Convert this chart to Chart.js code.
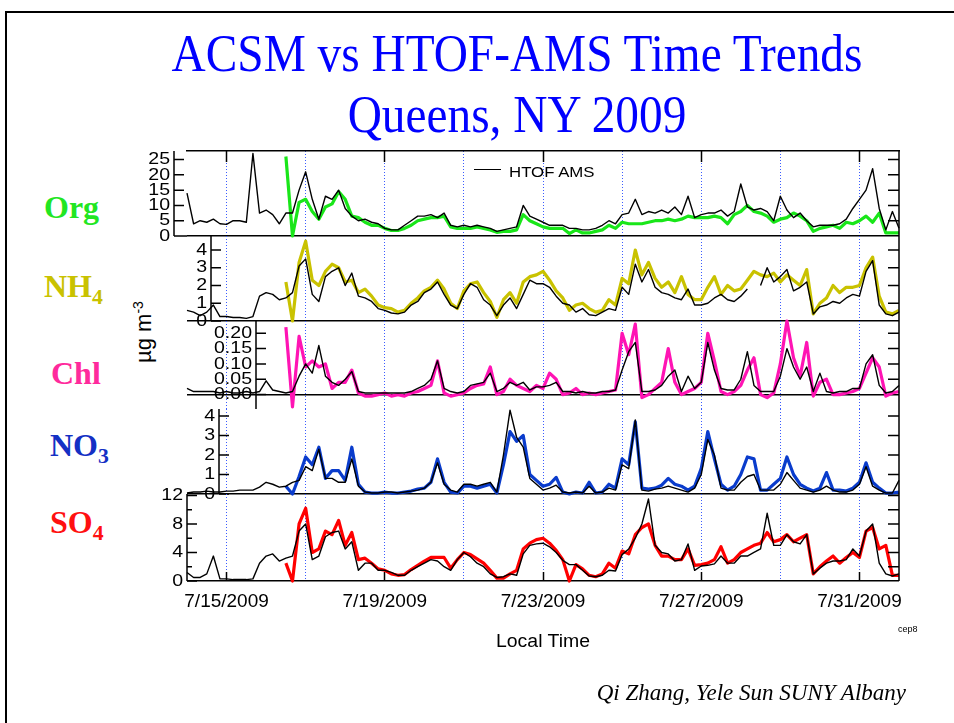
<!DOCTYPE html>
<html>
<head>
<meta charset="utf-8">
<title>ACSM vs HTOF-AMS Time Trends</title>
<script src="https://cdn.jsdelivr.net/npm/chart.js@4.4.0/dist/chart.umd.min.js"></script>
<style>
  body { margin: 0; background: #fff; }
  #page { position: relative; width: 954px; height: 723px; overflow: hidden; background: #fff; }
  #page canvas { position: absolute; left: 0; top: 0; }
  .txt { position: absolute; white-space: nowrap; }
  .serif { font-family: "Liberation Serif", "Times New Roman", serif; }
  .sans { font-family: "Liberation Sans", Arial, sans-serif; }
  .species { font-family: "Liberation Serif", serif; font-weight: bold; font-size: 32px; line-height: 32px; left: 44px; }
  .species sub { font-size: 0.68em; vertical-align: -0.3em; line-height: 0; }
</style>
</head>
<body>
<div id="page">
  <div style="position:absolute;left:5px;top:11px;width:1000px;height:800px;border-left:2px solid #000;border-top:2px solid #000;"></div>

  <div class="txt serif" style="left:0;width:1034px;top:28px;font-size:52px;line-height:52px;color:#0000ff;text-align:center;transform:scaleX(0.91);">ACSM vs HTOF-AMS Time Trends</div>
  <div class="txt serif" style="left:0;width:1034px;top:89px;font-size:52px;line-height:52px;color:#0000ff;text-align:center;transform:scaleX(0.91);">Queens, NY 2009</div>

  <div class="txt species" style="top:191px;color:#22e622;">Org</div>
  <div class="txt species" style="top:270px;color:#c9c200;">NH<sub>4</sub></div>
  <div class="txt species" style="top:357px;color:#ff2a9c;left:51px;">Chl</div>
  <div class="txt species" style="top:429px;color:#1430c4;left:50px;">NO<sub>3</sub></div>
  <div class="txt species" style="top:506px;color:#ff1010;left:50px;">SO<sub>4</sub></div>

  <div class="txt sans" style="left:141px;top:332px;font-size:22px;line-height:22px;transform:translate(-50%,-50%) rotate(-90deg);">&micro;g m<sup style="font-size:14px;">-3</sup></div>

  <canvas id="orgChart" width="954" height="723"></canvas>
  <canvas id="nh4Chart" width="954" height="723"></canvas>
  <canvas id="chlChart" width="954" height="723"></canvas>
  <canvas id="no3Chart" width="954" height="723"></canvas>
  <canvas id="so4Chart" width="954" height="723"></canvas>

  <div style="position:absolute;left:474px;top:169px;width:27px;border-top:1.5px solid #000;"></div>
  <div class="txt sans" style="left:509px;top:164px;font-size:15px;line-height:15px;transform:scaleX(1.12);transform-origin:left center;">HTOF AMS</div>

  <div class="txt sans" style="left:443px;width:200px;top:632px;font-size:18px;line-height:18px;text-align:center;transform:scaleX(1.08);">Local Time</div>
  <div class="txt sans" style="left:898px;top:625px;font-size:9px;line-height:9px;">cep8</div>
  <div class="txt serif" style="right:48px;top:681px;font-size:23px;line-height:23px;font-style:italic;">Qi Zhang, Yele Sun SUNY Albany</div>
</div>

<script>
// 4-hour points, day 0 = 7/14/2009 00:00 local time
const stepDays = 4 / 24;
const htofStart = 0;   // HTOF-AMS series start index
const acsmStart = 15;  // ACSM series start index (7/16 12:00)

const orgHtof = [14, 4, 5, 4.5, 5.5, 4, 3.8, 5, 5, 4.5, 27, 7.5, 8.5, 7, 4, 7.5, 7.5, 15, 21, 12,
  5.5, 13, 12, 15, 9, 6.5, 5, 5.5, 4.5, 4, 2.5, 2, 2, 3.5, 5, 6.5, 6.5, 7, 6, 7.5,
  3.5, 3, 3.5, 3, 3.5, 3, 2.5, 1.5, 2, 2.5, 3, 10, 6.5, 5.5, 4.5, 3.5, 3.5, 3.5, 2.5, 2.5,
  2, 2, 2.5, 3.5, 5, 4, 7, 7.5, 12, 7, 8, 7.5, 8.5, 7.5, 9.5, 7, 13, 6, 7, 7.5,
  7.5, 8.5, 6.5, 8, 17, 9.5, 8.5, 9, 8, 5, 13, 8.5, 6, 7.5, 5, 3, 3.5, 3.5, 3.5, 4,
  5.5, 9, 12, 15, 22, 9, 2, 8, 2.5];
const orgAcsm = [26, 0, 11, 12, 8, 5.5, 9.5, 10.5, 14.5, 12, 6.5, 6, 4.5, 3.5, 3.5, 2.5, 1.8, 1.8, 2.5, 3.5,
  5, 5.5, 6, 6, 6.5, 3, 2.5, 2.5, 2.5, 3, 2.5, 2, 1.2, 1.5, 1.5, 2, 7, 5, 4, 3,
  2.5, 2.5, 2.5, 0.8, 2, 1, 1, 1.5, 2, 3.5, 2.5, 4.5, 4, 4, 4, 4.5, 5, 5, 5.5, 5,
  5.5, 6.5, 6, 6, 6, 6.5, 6, 4, 7, 8, 10, 8, 7.5, 6.5, 4.5, 5.5, 6, 7.5, 6.5, 5,
  1.5, 2.5, 3, 3.5, 2.5, 4.5, 4, 5, 6.5, 4.5, 7.5, 1, 1, 1];

const nh4Htof = [0.6, 0.5, 0.3, 0.5, 0.9, 0.25, 0.25, 0.2, 0.2, 0.15, 0.25, 1.4, 1.6, 1.5, 1.2, 1.3, 1.6, 3.1, 3.5, 1.5,
  1.1, 2.5, 2.8, 3.0, 2.0, 2.7, 1.4, 1.3, 1.1, 0.7, 0.6, 0.45, 0.4, 0.5, 0.9, 1.1, 1.6, 1.8, 2.2, 1.5,
  0.9, 0.7, 1.5, 2.1, 1.9, 1.2, 0.9, 0.3, 0.9, 1.3, 0.7, 1.5, 2.3, 2.1, 2.1, 1.9, 1.4, 1.0, 0.9, 0.5,
  0.7, 0.35, 0.3, 0.5, 0.7, 0.6, 1.9, 1.5, 3.2, 2.2, 2.9, 1.9, 1.6, 1.5, 1.3, 1.2, 1.8, 0.9, 0.9, 1.0,
  1.3, 1.5, 1.2, 1.1, 1.4, 1.8, null, 2.0, 3.0, 2.2, 2.5, 2.9, 1.7, 1.9, 2.2, 0.4, 0.8, 0.9, 1.1, 1.0,
  1.3, 1.5, 1.4, 2.8, 3.4, 0.9, 0.4, 0.3, 0.5];
const nh4Acsm = [2.2, 0, 3.3, 4.5, 2.3, 2.0, 2.8, 3.2, 3.0, 2.2, 2.3, 1.6, 1.8, 1.4, 0.9, 0.75, 0.7, 0.5, 0.6, 1.0,
  1.3, 1.7, 1.9, 2.3, 1.8, 1.0, 0.7, 1.7, 2.1, 2.2, 1.6, 1.1, 0.2, 1.2, 1.6, 1.0, 2.2, 2.5, 2.6, 2.8,
  2.3, 1.7, 1.3, 0.6, 0.9, 1.0, 0.7, 0.5, 0.6, 1.2, 0.9, 2.4, 2.1, 4.0, 2.6, 3.3, 2.4, 1.9, 2.2, 1.6,
  2.5, 1.5, 1.2, 1.2, 1.9, 2.5, 1.5, 2.0, 1.7, 1.8, 2.3, 2.8, 2.6, 2.5, 2.7, 2.2, 2.6, 2.3, 2.0, 2.9,
  0.4, 1.0, 1.3, 2.0, 1.6, 1.9, 1.9, 2.0, 3.0, 3.6, 1.4, 0.5, 0.4, 0.6];

const chlHtof = [0.02, 0.01, 0.01, 0.01, 0.01, 0.005, 0.01, 0.005, 0.005, 0.01, 0.005, 0.01, 0.045, 0.015, 0.01, 0.005, 0.01, 0.06, 0.10, 0.07,
  0.16, 0.06, 0.04, 0.03, 0.05, 0.075, 0.01, 0.005, 0.005, 0.005, 0.005, 0.005, 0.005, 0.005, 0.01, 0.02, 0.03, 0.05, 0.11, 0.02,
  0.01, 0.005, 0.01, 0.03, 0.035, 0.04, 0.07, 0.01, 0.02, 0.04, 0.03, 0.04, 0.015, 0.025, 0.025, 0.03, 0.04, 0.01, 0.01, 0.005,
  0.01, 0.005, 0.005, 0.01, 0.01, 0.015, 0.08, 0.14, 0.17, 0.01, 0.01, 0.015, 0.03, 0.06, 0.08, 0.01, 0.06, 0.02, 0.04, 0.17,
  0.08, 0.02, 0.015, 0.015, 0.05, 0.14, 0.03, 0.01, 0.01, 0.01, 0.06, 0.15, 0.09, 0.05, 0.09, 0.01, 0.07, 0.01, 0.005, 0.01,
  0.01, 0.02, 0.02, 0.10, 0.13, 0.03, 0.005, 0.01, 0.03];
const chlAcsm = [0.22, -0.04, 0.19, 0.09, 0.11, 0.09, 0.10, 0.02, 0.04, 0.04, 0.08, 0.005, -0.005, -0.005, 0.0, 0.005, -0.005, 0.0, -0.005, 0.005,
  0.01, 0.02, 0.03, 0.11, 0.005, -0.005, 0.0, 0.005, 0.02, 0.03, 0.035, 0.09, 0.0, 0.01, 0.05, 0.03, 0.02, 0.01, 0.03, 0.02,
  0.07, 0.05, 0.0, 0.005, 0.02, 0.0, 0.005, 0.0, 0.005, 0.01, 0.015, 0.2, 0.13, 0.23, -0.01, 0.0, 0.02, 0.04, 0.15, 0.04,
  0.0, 0.01, 0.02, 0.04, 0.2, 0.11, 0.01, 0.0, 0.01, 0.03, 0.08, 0.12, 0.0, -0.01, 0.005, 0.1, 0.24, 0.12, 0.06, 0.17,
  -0.005, 0.04, 0.05, 0.0, 0.0, 0.005, 0.01, 0.02, 0.07, 0.12, 0.09, -0.005, 0.005, 0.01];

const no3Htof = [0.05, 0.1, 0.1, 0.15, 0.1, 0.1, 0.15, 0.15, 0.2, 0.2, 0.2, 0.35, 0.6, 0.5, 0.35, 0.4, 0.6, 0.7, 1.4, 1.2,
  2.3, 0.8, 0.8, 0.6, 0.6, 1.8, 0.4, 0.1, 0.05, 0.05, 0.1, 0.1, 0.05, 0.1, 0.15, 0.2, 0.3, 0.6, 1.6, 0.5,
  0.2, 0.1, 0.5, 0.5, 0.4, 0.5, 0.6, 0.1, 2.0, 4.3, 2.9, 2.4, 0.8, 0.5, 0.2, 0.3, 0.45, 0.1, 0.05, 0.1,
  0.05, 0.4, 0.05, 0.1, 0.3, 0.2, 1.5, 1.3, 3.8, 0.2, 0.15, 0.25, 0.3, 0.4, 0.3, 0.2, 0.1, 0.3, 1.0, 2.8,
  2.0, 0.3, 0.2, 0.2, 0.6, 0.9, 1.0, 0.2, 0.2, 0.2, 0.5, 1.1, 0.7, 0.3, 0.2, 0.1, 0.2, 0.4, 0.2, 0.1,
  0.1, 0.2, 0.5, 1.4, 0.4, 0.2, 0.05, 0.05, 0.7];
const no3Acsm = [0.4, 0.0, 0.9, 1.9, 1.5, 2.4, 0.8, 1.2, 1.2, 0.7, 2.4, 0.5, 0.1, 0.05, 0.05, 0.1, 0.05, 0.05, 0.1, 0.15,
  0.25, 0.3, 0.6, 1.8, 0.6, 0.1, 0.05, 0.4, 0.4, 0.3, 0.4, 0.5, 0.05, 1.5, 3.2, 2.7, 3.0, 1.0, 0.7, 0.4,
  0.5, 0.85, 0.1, 0.0, 0.1, 0.05, 0.6, 0.05, 0.1, 0.5, 0.3, 1.8, 1.5, 3.7, 0.3, 0.25, 0.3, 0.45, 0.8, 0.5,
  0.4, 0.2, 0.4, 1.3, 3.2, 1.8, 0.5, 0.2, 0.4, 1.0, 1.9, 1.8, 0.2, 0.2, 0.5, 0.8, 1.9, 1.0, 0.5, 0.3,
  0.15, 0.3, 1.1, 0.2, 0.2, 0.15, 0.3, 0.6, 1.6, 0.6, 0.3, 0.05, 0.05, 0.1];

const so4Htof = [1.2, 0.5, 0.5, 1.0, 3.5, 0.3, 0.3, 0.2, 0.2, 0.2, 0.3, 2.5, 3.5, 3.8, 2.8, 3.2, 3.5, 7.0, 8.0, 3.0,
  3.5, 6.2, 6.8, 7.0, 4.5, 5.5, 1.5, 2.5, 2.5, 1.5, 1.5, 1.2, 0.8, 0.8, 1.5, 2.0, 2.5, 3.0, 2.8, 2.0,
  1.5, 3.0, 4.0, 3.4, 2.5, 2.0, 1.0, 0.5, 0.6, 1.0, 0.8, 3.8, 5.0, 5.2, 5.3, 4.8, 4.0, 2.9, 2.3, 2.3,
  1.5, 0.7, 0.6, 0.8, 1.5, 1.4, 3.7, 4.5, 6.0, 8.0, 11.5, 5.0, 4.0, 3.8, 2.8, 3.0, 5.2, 1.5, 2.1, 2.2,
  2.4, 3.5, 2.5, 2.5, 3.5, 3.5, 4.0, 4.5, 9.5, 5.0, 5.0, 6.5, 5.5, 5.2, 6.5, 1.0, 1.8, 2.5, 2.8, 2.8,
  3.0, 4.5, 3.5, 7.0, 8.0, 2.5, 1.0, 0.7, 1.0];
const so4Acsm = [2.5, 0.0, 8.0, 10.2, 4.0, 4.5, 7.0, 6.5, 8.5, 5.0, 6.8, 3.0, 3.2, 2.5, 1.7, 1.5, 1.0, 0.8, 0.9, 1.6,
  2.2, 2.8, 3.3, 3.3, 3.3, 1.8, 3.0, 4.0, 3.7, 3.1, 2.5, 1.5, 0.4, 0.4, 1.0, 1.5, 4.5, 5.3, 5.8, 6.0,
  5.3, 4.3, 3.0, 0.0, 2.3, 1.7, 0.8, 0.6, 1.0, 2.5, 1.8, 4.2, 3.8, 6.5, 7.5, 8.0, 5.0, 3.5, 3.5, 3.0,
  3.0, 4.5, 2.2, 2.3, 2.5, 3.0, 4.8, 2.5, 3.0, 4.0, 4.5, 5.0, 5.3, 6.8, 5.5, 5.8, 6.5, 5.5, 6.0, 6.5,
  1.0, 2.0, 2.8, 3.5, 2.5, 3.3, 4.0, 3.3, 7.0, 7.5, 4.5, 5.0, 0.8, 0.8];

// axes
const gridDays = [1, 3, 5, 7, 9, 11, 13, 15, 17];
const labelDays = [1, 5, 9, 13, 17];
const dateLabels = ['7/15/2009', '7/19/2009', '7/23/2009', '7/27/2009', '7/31/2009'];
const orgTicks = [0, 5, 10, 15, 20, 25];
const nh4Ticks = [0, 1, 2, 3, 4];
const chlTicks = [0, 0.05, 0.10, 0.15, 0.20];
const no3Ticks = [0, 1, 2, 3, 4];
const so4Ticks = [0, 2, 4, 6, 8, 10, 12];
const so4Labelled = [0, 4, 8, 12];

function toPoints(start, vals) {
  return vals.map((v, i) => ({x: (start + i) * stepDays, y: v}));
}

// Igor-style offset y axis with inward ticks, plus mirrored ticks on the right frame
const igorAxis = {
  id: 'igorAxis',
  afterDraw(chart, args, opts) {
    const ys = chart.scales.y, area = chart.chartArea, ctx = chart.ctx;
    const ax = opts.axisX;
    ctx.save();
    ctx.strokeStyle = '#000';
    ctx.fillStyle = '#000';
    ctx.lineWidth = 1.5;
    ctx.beginPath();
    ctx.moveTo(ax, area.top); ctx.lineTo(ax, area.bottom);
    ctx.moveTo(area.right, area.top); ctx.lineTo(area.right, area.bottom);
    if (ax < area.left) {
      const z = ys.getPixelForValue(0);
      ctx.moveTo(ax, z); ctx.lineTo(area.left, z);
    }
    ys.ticks.forEach(t => {
      const py = ys.getPixelForValue(t.value);
      const major = opts.labelled.includes(t.value);
      ctx.moveTo(ax, py); ctx.lineTo(ax + (major ? 10 : 5), py);
      if (t.value !== 0) { ctx.moveTo(area.right, py); ctx.lineTo(area.right - 11, py); }
    });
    ctx.stroke();
    ctx.font = opts.fontSize + 'px "Liberation Sans", Arial, sans-serif';
    ctx.textAlign = 'right';
    ctx.textBaseline = 'middle';
    ys.ticks.forEach(t => {
      if (!opts.labelled.includes(t.value)) return;
      const py = ys.getPixelForValue(t.value);
      ctx.save();
      ctx.translate(ax - 4, py);
      ctx.scale(opts.stretch, 1);
      ctx.fillText(t.value.toFixed(opts.decimals), 0, 0);
      ctx.restore();
    });
    ctx.restore();
  }
};

const panels = [
  {id: 'orgChart', htof: orgHtof, acsm: orgAcsm, color: '#19e619', top: 151, bottom: 236,
   min: 0, max: 27.8, ticks: orgTicks, labelled: orgTicks, axisX: 174, decimals: 0, topAxis: true},
  {id: 'nh4Chart', htof: nh4Htof, acsm: nh4Acsm, color: '#c9c200', top: 236, bottom: 321,
   min: 0, max: 4.79, ticks: nh4Ticks, labelled: nh4Ticks, axisX: 211, decimals: 0},
  {id: 'chlChart', htof: chlHtof, acsm: chlAcsm, color: '#ff14b4', top: 321, bottom: 409,
   min: -0.047, max: 0.24, ticks: chlTicks, labelled: chlTicks, axisX: 256, decimals: 2},
  {id: 'no3Chart', htof: no3Htof, acsm: no3Acsm, color: '#0a3ccc', top: 409, bottom: 494,
   min: 0, max: 4.36, ticks: no3Ticks, labelled: no3Ticks, axisX: 219, decimals: 0},
  {id: 'so4Chart', htof: so4Htof, acsm: so4Acsm, color: '#ff0000', top: 494, bottom: 581,
   min: 0, max: 12.2, ticks: so4Ticks, labelled: so4Labelled, axisX: 187, decimals: 0, dates: true}
];

const dateBand = 40; // room kept under the bottom panel for the date labels

panels.forEach(p => {
  const scales = {
    x: {
      type: 'linear', min: 0, max: 18,
      afterBuildTicks: s => { s.ticks = gridDays.map(v => ({value: v})); },
      afterFit: s => { s.height = p.dates ? dateBand : 0; },
      border: {display: false, dash: [1, 2]},
      grid: {
        color: '#3b5cff', lineWidth: 1,
        drawTicks: !!p.dates, tickLength: -9, tickWidth: 1.5, tickBorderDash: [],
        tickColor: c => labelDays.includes(c.tick.value) ? '#000' : 'rgba(0,0,0,0)'
      },
      ticks: {
        display: !!p.dates, autoSkip: false, maxRotation: 0, padding: 18, color: '#000',
        font: {family: 'Liberation Sans', size: 19},
        callback: v => { const i = labelDays.indexOf(v); return i >= 0 ? dateLabels[i] : ''; }
      }
    },
    y: {
      min: p.min, max: p.max,
      afterBuildTicks: s => { s.ticks = p.ticks.map(v => ({value: v})); },
      afterFit: s => { s.width = 0; },
      border: {display: false},
      grid: {drawTicks: false, lineWidth: 1.5, color: c => (c.tick && c.tick.value === 0) ? '#000' : 'rgba(0,0,0,0)'},
      ticks: {display: false}
    }
  };
  if (p.topAxis) {
    scales.xt = {
      type: 'linear', position: 'top', min: 0, max: 18,
      afterBuildTicks: s => { s.ticks = labelDays.map(v => ({value: v})); },
      afterFit: s => { s.height = 0; },
      border: {display: true, color: '#000', width: 1.5},
      grid: {drawOnChartArea: false, drawTicks: true, tickLength: -11, tickWidth: 1.5, tickColor: '#000', tickBorderDash: []},
      ticks: {display: false}
    };
  }
  const bottomPad = 723 - p.bottom - (p.dates ? dateBand : 0);
  new Chart(document.getElementById(p.id), {
    type: 'line',
    data: {
      datasets: [
        {label: 'HTOF AMS', data: toPoints(htofStart, p.htof), borderColor: '#000', borderWidth: 1.4, clip: false},
        {label: 'ACSM', data: toPoints(acsmStart, p.acsm), borderColor: p.color, borderWidth: 3.2, clip: false}
      ]
    },
    options: {
      responsive: false, animation: false, devicePixelRatio: 1, events: [],
      layout: {padding: {left: 187, right: 954 - 899, top: p.top, bottom: bottomPad}},
      elements: {point: {radius: 0}, line: {tension: 0, borderJoinStyle: 'round'}},
      plugins: {
        legend: {display: false},
        tooltip: {enabled: false},
        igorAxis: {axisX: p.axisX, labelled: p.labelled, decimals: p.decimals, fontSize: 17, stretch: 1.15}
      },
      scales: scales
    },
    plugins: [igorAxis]
  });
});
</script>
</body>
</html>
